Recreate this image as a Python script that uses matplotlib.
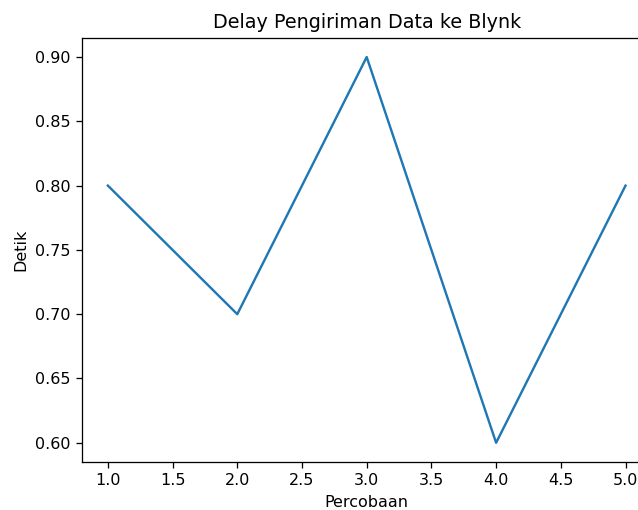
import matplotlib
matplotlib.use("Agg")
import matplotlib.pyplot as plt

# data
percobaan = [1, 2, 3, 4, 5]
delay = [0.8, 0.7, 0.9, 0.6, 0.8]

# reference was rendered a bit larger than 100 dpi
dpi = 115
fig = plt.figure(figsize=(638 / dpi, 510 / dpi), dpi=dpi)
# reference image is cropped on the right, so the axes runs past the edge
plt.subplots_adjust(left=0.1285, right=1.021, top=0.926, bottom=0.094)
plt.plot(percobaan, delay)
plt.xlabel("Percobaan")
plt.ylabel("Detik")
plt.title("Delay Pengiriman Data ke Blynk")
plt.savefig("out.png", dpi=dpi)
